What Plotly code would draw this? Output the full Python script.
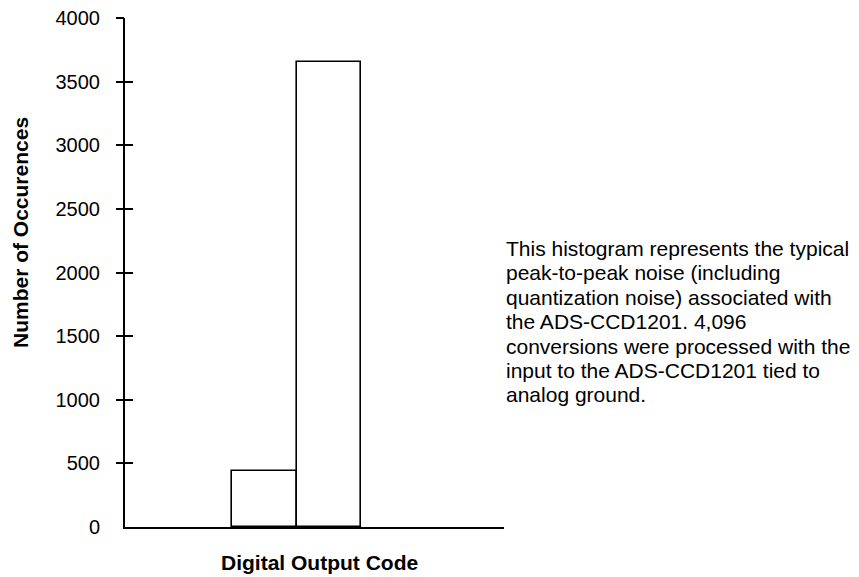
import plotly.graph_objects as go

codes = [0, 1]
occurrences = [437, 3656]
y_ticks = [0, 500, 1000, 1500, 2000, 2500, 3000, 3500, 4000]
tick_marks = [500, 1000, 1500, 2000, 2500, 3000, 3500, 4000]
note_lines = [
    "This histogram represents the typical",
    "peak-to-peak noise (including",
    "quantization noise) associated with",
    "the ADS-CCD1201. 4,096",
    "conversions were processed with the",
    "input to the ADS-CCD1201 tied to",
    "analog ground.",
]

FONT = "Arial, Liberation Sans, sans-serif"
L, R, T, B = 117, 355, 10, 50
W, H = 851, 569
PW, PH = W - L - R, H - T - B

fig = go.Figure()
fig.add_trace(go.Bar(
    x=codes, y=occurrences, width=1,
    marker=dict(color="white", line=dict(color="black", width=1.6)),
    showlegend=False, hoverinfo="x+y",
))
for ax in ("y2", "y3"):
    fig.add_trace(go.Scatter(x=[codes[0]], y=[0], yaxis=ax, mode="markers",
                             marker=dict(opacity=0), showlegend=False, hoverinfo="skip"))

tick_common = dict(range=[0, 4000], overlaying="y", side="left", showticklabels=False,
                   showgrid=False, zeroline=False, showline=False, automargin=False,
                   ticklabeloverflow="allow",
                   tickvals=tick_marks, ticklen=8, tickwidth=2, tickcolor="black")

fig.update_layout(
    width=W, height=H,
    margin=dict(l=L, r=R, t=T, b=B, autoexpand=False),
    paper_bgcolor="white", plot_bgcolor="white",
    font=dict(family=FONT, size=20, color="black"),
    bargap=0,
    xaxis=dict(range=[-2.159, 3.717], showticklabels=False, ticks="",
               showgrid=False, zeroline=False, showline=True, automargin=False,
               linecolor="black", linewidth=2),
    yaxis=dict(range=[0, 4000], tickvals=y_ticks, ticks="outside", ticklen=8,
               tickcolor="rgba(0,0,0,0)", showgrid=False, zeroline=False,
               showline=True, linecolor="black", linewidth=2, automargin=False,
               ticklabeloverflow="allow",
               ticklabelstandoff=11, tickfont=dict(size=20)),
    yaxis2=dict(ticks="outside", **tick_common),
    yaxis3=dict(ticks="inside", **tick_common),
)

def px_x(x):
    return (x - L) / PW

def px_y(y):
    return (T + PH - y) / PH

OFF = 8  # page body margin

fig.add_annotation(text="<b>Number of Occurences</b>", textangle=-90,
                   xref="paper", yref="paper", x=px_x(21 - OFF), y=px_y(233 - OFF),
                   xanchor="center", yanchor="middle", showarrow=False,
                   font=dict(size=21))
fig.add_annotation(text="<b>Digital Output Code</b>",
                   xref="paper", yref="paper", x=px_x(319.5 - OFF), y=px_y(562 - OFF),
                   xanchor="center", yanchor="middle", showarrow=False,
                   font=dict(size=21))

for i, line in enumerate(note_lines):
    fig.add_annotation(text=line, xref="paper", yref="paper",
                       x=px_x(504.3 - OFF), y=px_y(248.5 + i * 24.4 - OFF),
                       xanchor="left", yanchor="middle", showarrow=False,
                       align="left", font=dict(size=21))

fig.write_html("out.html")
